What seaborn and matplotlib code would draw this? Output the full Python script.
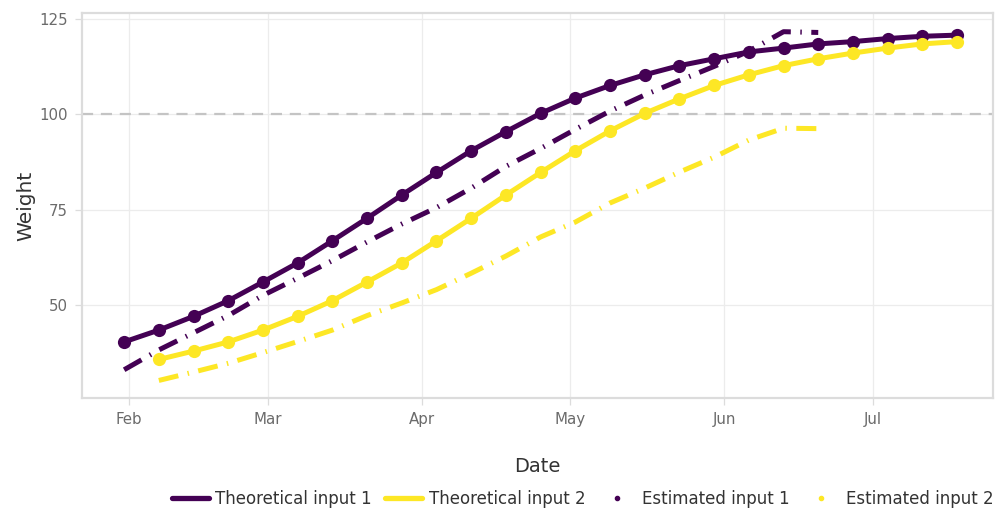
import numpy as np
import pandas as pd
import matplotlib
matplotlib.use("Agg")
import matplotlib.pyplot as plt
import matplotlib.dates as mdates
from matplotlib.lines import Line2D
import seaborn as sns

# ---- data ----
theo1_start = "2021-01-31"
theo1_values = [40.3, 43.4, 47.0, 51.1, 56.0, 61.0, 66.8, 72.7, 78.8, 84.7, 90.4,
                95.4, 100.2, 104.2, 107.5, 110.3, 112.7, 114.5, 116.3, 117.3,
                118.4, 119.0, 119.8, 120.4, 120.7]

theo2_start = "2021-02-07"
theo2_values = [35.7, 37.9, 40.3, 43.4, 47.0, 51.1, 56.0, 61.0, 66.8, 72.7, 78.8,
                84.7, 90.4, 95.6, 100.2, 104.0, 107.5, 110.3, 112.7, 114.5,
                116.0, 117.3, 118.4, 119.0]

est1_start = "2021-01-31"
est1_values = [33.0, 38.2, 42.7, 47.2, 52.5, 57.0, 61.6, 66.5, 71.2, 75.5, 80.6,
               86.3, 91.0, 96.0, 100.8, 105.0, 108.8, 112.5, 116.5, 121.6, 121.4]

est2_start = "2021-02-07"
est2_values = [30.2, 32.4, 34.7, 37.5, 40.4, 43.4, 47.2, 50.5, 54.0, 58.3, 62.8,
               67.8, 71.7, 76.7, 80.6, 84.8, 88.7, 93.2, 96.3, 96.2]

series_names = ["Theoretical input 1", "Theoretical input 2",
                "Estimated input 1", "Estimated input 2"]
threshold = 100


def weekly(start, vals, name):
    d = pd.date_range(start, periods=len(vals), freq="7D")
    return pd.DataFrame({"Date": d, "Weight": vals, "series": name})


df_theo = pd.concat([weekly(theo1_start, theo1_values, series_names[0]),
                     weekly(theo2_start, theo2_values, series_names[1])])
df_est = pd.concat([weekly(est1_start, est1_values, series_names[2]),
                    weekly(est2_start, est2_values, series_names[3])])

PURPLE = "#440154"
YELLOW = "#FDE725"

sns.set_theme(style="white")
plt.rcParams["font.family"] = ["DejaVu Sans"]

fig = plt.figure(figsize=(10.04, 5.09), dpi=100)
ax = fig.add_axes([82 / 1004, 1 - 398 / 509, (993 - 82) / 1004, (398 - 13) / 509])

ax.axhline(threshold, color="#c4c4c4", lw=1.6, ls=(0, (5, 3.5)), zorder=1)

dash_pat = (4.0, 1.9, 0.3, 1.9)
sns.lineplot(data=df_est, x="Date", y="Weight", hue="series", style="series",
             palette=[PURPLE, YELLOW], dashes=[dash_pat, dash_pat],
             linewidth=3.6, legend=False, ax=ax, zorder=2)
sns.lineplot(data=df_theo, x="Date", y="Weight", hue="series",
             palette=[PURPLE, YELLOW], marker="o", markersize=9.5,
             markeredgewidth=0, linewidth=3.6, legend=False, ax=ax, zorder=3)

ax.set_xlim(pd.Timestamp("2021-01-22 12:00"), pd.Timestamp("2021-07-25 06:00"))
ax.set_ylim(25.6, 126.5)
ax.set_yticks([50, 75, 100, 125])
ax.xaxis.set_major_locator(mdates.MonthLocator())
ax.xaxis.set_major_formatter(mdates.DateFormatter("%b"))

ax.grid(True, color="#ececec", lw=0.9)
for s in ax.spines.values():
    s.set_color("#dcdcdc")
    s.set_linewidth(1.6)
ax.tick_params(axis="both", length=5, width=0.9, color="#dcdcdc",
               labelcolor="#6b6b6b", labelsize=10.8, pad=5, bottom=True, left=True)
ax.set_xlabel("Date", fontsize=14, color="#333333", labelpad=22)
ax.set_ylabel("Weight", fontsize=14.5, color="#333333", labelpad=3)

handles = [
    Line2D([], [], color=PURPLE, lw=3.8),
    Line2D([], [], color=YELLOW, lw=3.8),
    Line2D([], [], color=PURPLE, lw=0, marker="o", markersize=3),
    Line2D([], [], color=YELLOW, lw=0, marker="o", markersize=3),
]
fig.legend(handles, series_names, loc="center", bbox_to_anchor=(583 / 1004, 1 - 499 / 509),
           ncol=4, frameon=False, fontsize=12, handlelength=2.2, handletextpad=0.4,
           columnspacing=0.8, labelcolor="#333333")

fig.savefig("out.png", dpi=100)
